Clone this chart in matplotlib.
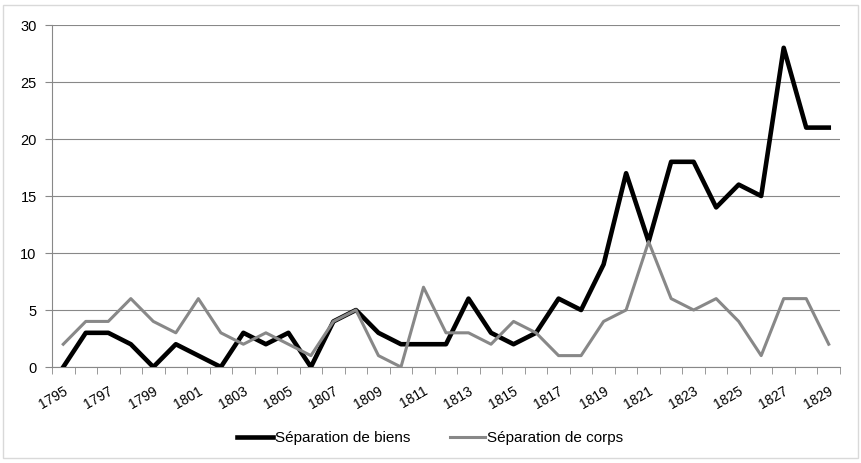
import numpy as np
import matplotlib.pyplot as plt
from matplotlib.patches import Rectangle

years = list(range(1795, 1830))
biens = [0, 3, 3, 2, 0, 2, 1, 0, 3, 2, 3, 0, 4, 5, 3, 2, 2, 2, 6, 3, 2, 3,
         6, 5, 9, 17, 11, 18, 18, 14, 16, 15, 28, 21, 21]
corps = [2, 4, 4, 6, 4, 3, 6, 3, 2, 3, 2, 1, 4, 5, 1, 0, 7, 3, 3, 2, 4, 3,
         1, 1, 4, 5, 11, 6, 5, 6, 4, 1, 6, 6, 2]

plt.rcParams['font.family'] = ['Liberation Sans', 'DejaVu Sans']

fig = plt.figure(figsize=(8.61, 4.63), dpi=100)
fig.patches.append(Rectangle((0.003, 0.011), 0.994, 0.978, transform=fig.transFigure,
                             fill=False, edgecolor='#d9d9d9', linewidth=1))
ax = fig.add_axes([0.0604, 0.2073, 0.9152, 0.7387])

x = np.arange(len(years))
ax.plot(x, biens, color='black', linewidth=3.3, label='Séparation de biens', zorder=3)
ax.plot(x, corps, color='#888888', linewidth=2.2, label='Séparation de corps', zorder=4)

ax.set_xlim(-0.5, len(years) - 0.5)
ax.set_ylim(0, 30)
ax.set_yticks(range(0, 31, 5))
ax.yaxis.grid(True, color='#888888', linewidth=0.8)
ax.set_axisbelow(True)

ax.set_xticks(x[::2])
ax.set_xticklabels([str(y) for y in years[::2]], rotation=30, ha='right',
                   rotation_mode='anchor', fontsize=10)
ax.set_xticks(np.arange(-0.5, len(years)), minor=True)
ax.tick_params(axis='x', which='major', length=0, pad=12)
ax.tick_params(axis='x', which='minor', length=5, color='#888888', direction='out')
ax.tick_params(axis='y', length=5, color='#888888', labelsize=10.5, pad=6)

for s in ['top', 'right']:
    ax.spines[s].set_visible(False)
for s in ['left', 'bottom']:
    ax.spines[s].set_color('#888888')
    ax.spines[s].set_linewidth(0.8)

fig.legend(loc='center', bbox_to_anchor=(0.5, 0.054), ncol=2, frameon=False,
           fontsize=11, handlelength=2.3, handletextpad=0.15, columnspacing=2.6)

fig.savefig('out.png', dpi=100)
